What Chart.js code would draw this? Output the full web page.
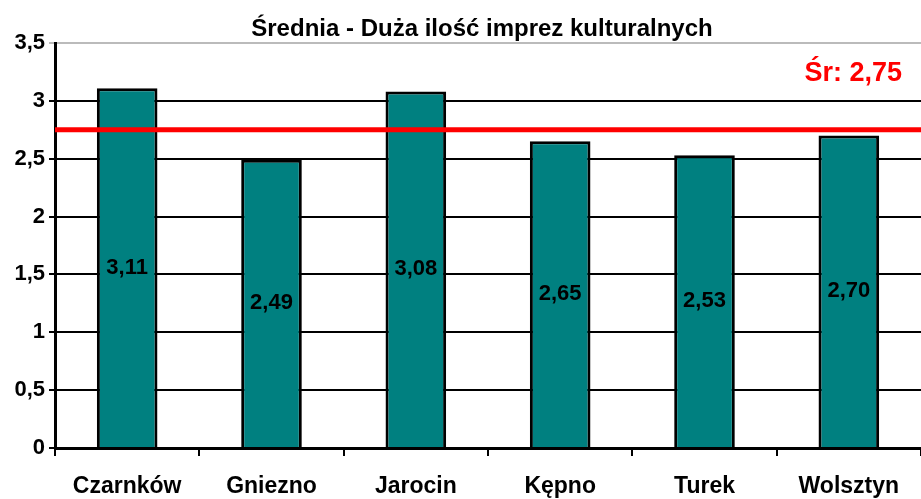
<!DOCTYPE html>
<html>
<head>
<meta charset="utf-8">
<script src="https://cdn.jsdelivr.net/npm/chart.js@4"></script>
<style>
  html, body { margin: 0; padding: 0; background: #fff; }
  #wrap { width: 921px; height: 499px; }
</style>
</head>
<body>
<div id="wrap"><canvas id="chart"></canvas></div>
<script>
const categories = ["Czarnków", "Gniezno", "Jarocin", "Kępno", "Turek", "Wolsztyn"];
const values = [3.11, 2.49, 3.08, 2.65, 2.53, 2.70];
const average = 2.75;
const titleText = "Średnia - Duża ilość imprez kulturalnych";

const fmt = v => v.toFixed(2).replace(".", ",");
const FONT = "'Liberation Sans', Arial, sans-serif";

// title (centred a bit right of the canvas centre, like the original),
// bar labels in the middle of each bar + red average line with label
const overlayPlugin = {
  id: "overlay",
  afterDatasetsDraw(chart) {
    const ctx = chart.ctx;
    const area = chart.chartArea;
    const yScale = chart.scales.y;
    const meta = chart.getDatasetMeta(0);

    ctx.save();
    ctx.font = "bold 24px " + FONT;
    ctx.fillStyle = "#000";
    ctx.textAlign = "center";
    ctx.textBaseline = "middle";
    ctx.fillText(titleText, 482, 29);

    ctx.font = "bold 22px " + FONT;
    meta.data.forEach((bar, i) => {
      ctx.fillText(fmt(values[i]), bar.x, (bar.y + bar.base) / 2);
    });

    const y = yScale.getPixelForValue(average);
    ctx.strokeStyle = "#ff0000";
    ctx.lineWidth = 5;
    ctx.beginPath();
    ctx.moveTo(area.left, y);
    ctx.lineTo(area.right, y);
    ctx.stroke();

    ctx.font = "bold 27px " + FONT;
    ctx.fillStyle = "#ff0000";
    ctx.textAlign = "right";
    ctx.fillText("Śr: " + fmt(average), 902, yScale.getPixelForValue(3.24));
    ctx.restore();
  }
};

new Chart(document.getElementById("chart"), {
  type: "bar",
  data: {
    labels: categories,
    datasets: [{
      data: values,
      backgroundColor: "#008080",
      borderColor: "#000",
      borderWidth: 3,
      barPercentage: 0.42,
      categoryPercentage: 1
    }]
  },
  options: {
    responsive: true,
    maintainAspectRatio: false,
    animation: false,
    layout: { padding: { top: 43, left: 0, right: 0, bottom: 0 } },
    plugins: {
      legend: { display: false },
      tooltip: { enabled: false },
      title: { display: false }
    },
    scales: {
      x: {
        offset: true,
        afterFit(scale) { scale.height = 51; },
        grid: {
          offset: true,
          drawOnChartArea: false,
          drawTicks: true,
          tickLength: 8,
          color: "#000",
          lineWidth: 2
        },
        border: { color: "#000", width: 3 },
        ticks: {
          color: "#000",
          padding: 17,
          font: { family: FONT, size: 23, weight: "bold" }
        }
      },
      y: {
        min: 0,
        max: 3.5,
        afterFit(scale) { scale.width = 55; },
        grid: {
          color: c => (c.tick && c.tick.value === 3.5 ? "#bbbbbb" : "#000"),
          lineWidth: 2,
          tickLength: 6
        },
        border: { color: "#000", width: 3 },
        ticks: {
          stepSize: 0.5,
          color: "#000",
          padding: 4,
          callback: v => String(v).replace(".", ","),
          font: { family: FONT, size: 22, weight: "bold" }
        }
      }
    }
  },
  plugins: [overlayPlugin]
});
</script>
</body>
</html>
